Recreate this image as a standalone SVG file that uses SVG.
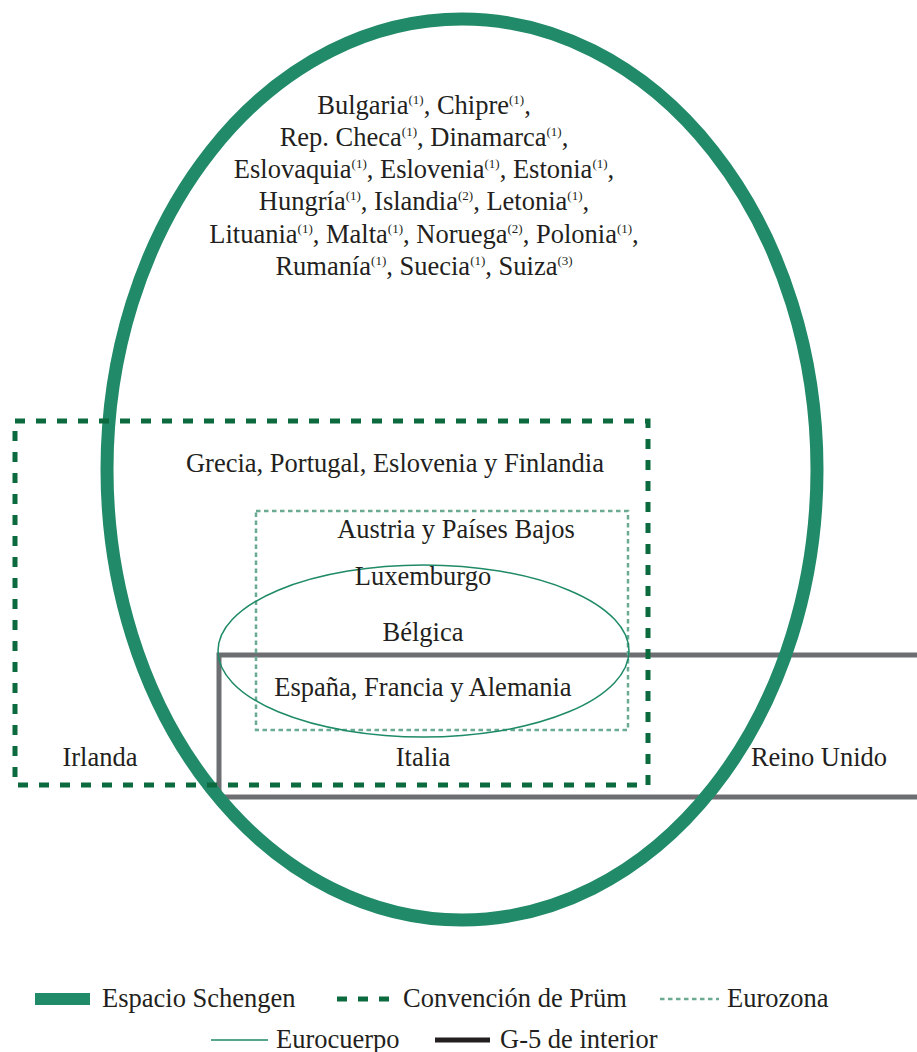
<svg xmlns="http://www.w3.org/2000/svg" width="917" height="1052" viewBox="0 0 917 1052">
<style>
text{font-family:"Liberation Serif","Times New Roman",serif;font-size:26.5px;fill:#231f20}
.c{text-anchor:middle}
.s{font-size:13px}
.schengen{fill:none;stroke:#218a68;stroke-width:13}
.prum{fill:none;stroke:#0b6b3f;stroke-width:5;stroke-dasharray:10 11}
.euro{fill:none;stroke:#6aab92;stroke-width:2.5;stroke-dasharray:4.5 3.5}
.corps{fill:none;stroke:#1e8a67;stroke-width:1.5}
.g5{fill:none;stroke:#6d6e71;stroke-width:5}
</style>
<rect width="917" height="1052" fill="#fff"/>
<g id="connectors">
<rect id="g5-rect" class="g5" x="219" y="655" width="720" height="142"/>
<ellipse id="schengen-ellipse" class="schengen" cx="462" cy="469.5" rx="355" ry="450.5"/>
<rect id="prum-rect" class="prum" x="15" y="421" width="633" height="364"/>
<rect id="eurozona-rect" class="euro" x="256" y="511" width="372" height="219"/>
<ellipse id="eurocuerpo-ellipse" class="corps" cx="423.5" cy="651" rx="205.5" ry="86"/>
</g>
<g id="node-schengen-only">
<text class="c" x="424" y="114">Bulgaria<tspan class="s" dy="-10">(1)</tspan><tspan dy="10">, Chipre</tspan><tspan class="s" dy="-10">(1)</tspan><tspan dy="10">,</tspan></text>
<text class="c" x="424" y="146">Rep. Checa<tspan class="s" dy="-10">(1)</tspan><tspan dy="10">, Dinamarca</tspan><tspan class="s" dy="-10">(1)</tspan><tspan dy="10">,</tspan></text>
<text class="c" x="424" y="178">Eslovaquia<tspan class="s" dy="-10">(1)</tspan><tspan dy="10">, Eslovenia</tspan><tspan class="s" dy="-10">(1)</tspan><tspan dy="10">, Estonia</tspan><tspan class="s" dy="-10">(1)</tspan><tspan dy="10">,</tspan></text>
<text class="c" x="424" y="210">Hungría<tspan class="s" dy="-10">(1)</tspan><tspan dy="10">, Islandia</tspan><tspan class="s" dy="-10">(2)</tspan><tspan dy="10">, Letonia</tspan><tspan class="s" dy="-10">(1)</tspan><tspan dy="10">,</tspan></text>
<text class="c" x="424" y="243">Lituania<tspan class="s" dy="-10">(1)</tspan><tspan dy="10">, Malta</tspan><tspan class="s" dy="-10">(1)</tspan><tspan dy="10">, Noruega</tspan><tspan class="s" dy="-10">(2)</tspan><tspan dy="10">, Polonia</tspan><tspan class="s" dy="-10">(1)</tspan><tspan dy="10">,</tspan></text>
<text class="c" x="424" y="275">Rumanía<tspan class="s" dy="-10">(1)</tspan><tspan dy="10">, Suecia</tspan><tspan class="s" dy="-10">(1)</tspan><tspan dy="10">, Suiza</tspan><tspan class="s" dy="-10">(3)</tspan></text>
</g>
<g id="node-grecia"><text class="c" x="395" y="472">Grecia, Portugal, Eslovenia y Finlandia</text></g>
<g id="node-austria"><text class="c" x="456" y="538">Austria y Países Bajos</text></g>
<g id="node-luxemburgo"><text class="c" x="423" y="585">Luxemburgo</text></g>
<g id="node-belgica"><text class="c" x="423" y="641">Bélgica</text></g>
<g id="node-espana"><text class="c" x="423" y="696">España, Francia y Alemania</text></g>
<g id="node-irlanda"><text class="c" x="100" y="766">Irlanda</text></g>
<g id="node-italia"><text class="c" x="423" y="766">Italia</text></g>
<g id="node-reino-unido"><text class="c" x="819" y="766">Reino Unido</text></g>
<g id="legend">
<rect x="35" y="993" width="55" height="12" fill="#218a68"/>
<text x="102" y="1007">Espacio Schengen</text>
<line class="prum" x1="337" y1="999" x2="392" y2="999" stroke-dasharray="10 8"/>
<text x="403" y="1007">Convención de Prüm</text>
<line class="euro" x1="660" y1="999" x2="719" y2="999" stroke-width="2" stroke-dasharray="4 3"/>
<text x="727" y="1007">Eurozona</text>
<line class="corps" x1="211" y1="1040" x2="268" y2="1040"/>
<text x="276" y="1048">Eurocuerpo</text>
<line x1="435" y1="1040" x2="490" y2="1040" stroke="#231f20" stroke-width="5"/>
<text x="500" y="1048">G-5 de interior</text>
</g>
</svg>
